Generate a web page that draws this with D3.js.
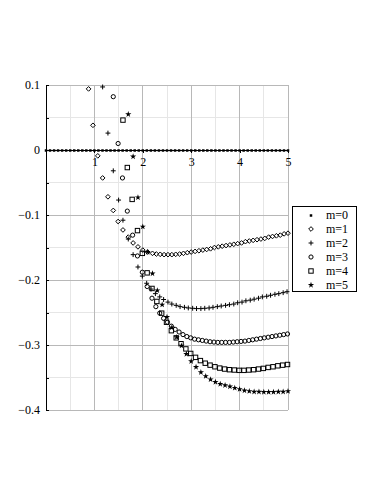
<!DOCTYPE html>
<html>
<head>
<meta charset="utf-8">
<script src="https://cdn.jsdelivr.net/npm/d3@7/dist/d3.min.js"></script>
<style>
  body { margin: 0; background: #fff; }
  svg text { font-family: 'Liberation Serif', 'Times New Roman', Times, serif; }
</style>
</head>
<body>
<div id="chart"></div>
<script>
// series data [x, y]
const m0 = [[0,0],[0.083,0],[0.167,0],[0.25,0],[0.333,0],[0.417,0],[0.5,0],[0.583,0],[0.667,0],[0.75,0],
  [0.833,0],[0.917,0],[1,0],[1.083,0],[1.167,0],[1.25,0],[1.333,0],[1.417,0],[1.5,0],[1.583,0],
  [1.667,0],[1.75,0],[1.833,0],[1.917,0],[2,0],[2.083,0],[2.167,0],[2.25,0],[2.333,0],[2.417,0],
  [2.5,0],[2.583,0],[2.667,0],[2.75,0],[2.833,0],[2.917,0],[3,0],[3.083,0],[3.167,0],[3.25,0],
  [3.333,0],[3.417,0],[3.5,0],[3.583,0],[3.667,0],[3.75,0],[3.833,0],[3.917,0],[4,0],[4.083,0],
  [4.167,0],[4.25,0],[4.333,0],[4.417,0],[4.5,0],[4.583,0],[4.667,0],[4.75,0],[4.833,0],[4.917,0],[5,0]];

const m1 = [[0.88,0.094],[0.97,0.038],[1.07,-0.009],[1.17,-0.043],[1.28,-0.072],[1.39,-0.093],[1.49,-0.110],
  [1.59,-0.123],[1.70,-0.134],[1.80,-0.143],[1.90,-0.149],[2.00,-0.154],[2.10,-0.157],[2.20,-0.159],
  [2.28,-0.160],[2.36,-0.1605],[2.44,-0.161],[2.52,-0.161],[2.60,-0.161],[2.68,-0.1605],[2.76,-0.160],
  [2.84,-0.159],[2.92,-0.158],[3.00,-0.157],[3.08,-0.156],[3.16,-0.155],[3.24,-0.154],[3.32,-0.153],
  [3.40,-0.152],[3.48,-0.150],[3.56,-0.149],[3.64,-0.148],[3.72,-0.147],[3.80,-0.146],[3.88,-0.145],
  [3.96,-0.144],[4.04,-0.143],[4.12,-0.141],[4.20,-0.140],[4.28,-0.139],[4.36,-0.138],[4.44,-0.137],
  [4.52,-0.136],[4.60,-0.134],[4.68,-0.133],[4.76,-0.132],[4.84,-0.131],[4.92,-0.129],[5.00,-0.128]];

const m2 = [[1.17,0.097],[1.28,0.026],[1.39,-0.032],[1.50,-0.077],[1.59,-0.108],[1.70,-0.137],[1.80,-0.161],
  [1.90,-0.180],[1.99,-0.194],[2.08,-0.205],[2.17,-0.214],[2.26,-0.221],[2.35,-0.226],[2.43,-0.230],
  [2.52,-0.234],[2.60,-0.237],[2.69,-0.239],[2.77,-0.241],[2.86,-0.242],[2.94,-0.243],[3.03,-0.2435],
  [3.11,-0.244],[3.20,-0.244],[3.28,-0.2435],[3.37,-0.243],[3.45,-0.242],[3.54,-0.241],[3.62,-0.240],
  [3.71,-0.239],[3.79,-0.238],[3.88,-0.237],[3.96,-0.235],[4.05,-0.234],[4.13,-0.232],[4.22,-0.231],
  [4.30,-0.2295],[4.39,-0.228],[4.47,-0.226],[4.56,-0.225],[4.64,-0.2235],[4.73,-0.222],[4.81,-0.221],
  [4.90,-0.2195],[4.98,-0.218]];

const m3 = [[1.39,0.082],[1.49,0.010],[1.58,-0.043],[1.68,-0.094],[1.79,-0.131],[1.89,-0.163],[1.99,-0.188],
  [2.09,-0.210],[2.19,-0.228],[2.27,-0.241],[2.35,-0.251],[2.43,-0.259],[2.51,-0.265],[2.59,-0.271],
  [2.67,-0.276],[2.75,-0.280],[2.83,-0.284],[2.91,-0.287],[2.99,-0.289],[3.07,-0.291],[3.15,-0.292],
  [3.23,-0.293],[3.31,-0.294],[3.39,-0.295],[3.47,-0.2955],[3.55,-0.296],[3.63,-0.296],[3.71,-0.296],
  [3.79,-0.296],[3.87,-0.2955],[3.95,-0.295],[4.03,-0.2945],[4.11,-0.294],[4.19,-0.293],[4.27,-0.292],
  [4.35,-0.291],[4.43,-0.290],[4.51,-0.289],[4.59,-0.288],[4.67,-0.287],[4.75,-0.286],[4.83,-0.285],
  [4.91,-0.284],[4.99,-0.283]];

const m4 = [[1.59,0.046],[1.68,-0.027],[1.78,-0.076],[1.89,-0.124],[1.99,-0.159],[2.09,-0.189],[2.19,-0.213],
  [2.29,-0.233],[2.39,-0.251],[2.49,-0.265],[2.59,-0.278],[2.69,-0.289],[2.79,-0.298],[2.89,-0.306],
  [2.99,-0.313],[3.09,-0.319],[3.19,-0.324],[3.29,-0.328],[3.39,-0.331],[3.49,-0.3335],[3.59,-0.3355],
  [3.69,-0.337],[3.79,-0.338],[3.89,-0.3385],[3.99,-0.339],[4.09,-0.339],[4.19,-0.3385],[4.29,-0.338],
  [4.39,-0.337],[4.49,-0.336],[4.59,-0.3345],[4.69,-0.3335],[4.79,-0.332],[4.89,-0.331],[4.99,-0.330]];

const m5 = [[1.70,0.055],[1.80,-0.010],[1.90,-0.073],[2.00,-0.118],[2.10,-0.157],[2.20,-0.190],[2.30,-0.216],
  [2.40,-0.238],[2.50,-0.257],[2.60,-0.273],[2.70,-0.288],[2.80,-0.301],[2.90,-0.314],[3.00,-0.325],
  [3.10,-0.334],[3.20,-0.342],[3.30,-0.348],[3.40,-0.353],[3.50,-0.357],[3.60,-0.360],[3.70,-0.362],
  [3.80,-0.364],[3.90,-0.366],[4.00,-0.368],[4.10,-0.370],[4.20,-0.371],[4.30,-0.372],[4.40,-0.372],
  [4.50,-0.3725],[4.60,-0.3725],[4.70,-0.3725],[4.80,-0.372],[4.90,-0.372],[5.00,-0.371]];

const seriesNames = ['m=0', 'm=1', 'm=2', 'm=3', 'm=4', 'm=5'];
const xTicks = [1, 2, 3, 4, 5];
const xTickLabels = ['1', '2', '3', '4', '5'];
const yTicks = [0.1, 0, -0.1, -0.2, -0.3, -0.4];
const yTickLabels = ['0.1', '0', '\u22120.1', '\u22120.2', '\u22120.3', '\u22120.4'];
const xMinorGrid = [0.5, 1.5, 2.5, 3.5, 4.5];
const yMinorGrid = [0.05, -0.05, -0.15, -0.25, -0.35];

const width = 382, height = 494;
const font = "'Liberation Serif', 'Times New Roman', Times, serif";
const x = d3.scaleLinear().domain([0, 5]).range([46, 288]);
const y = d3.scaleLinear().domain([-0.4, 0.1]).range([410, 85]);

const svg = d3.select('#chart').append('svg')
  .attr('width', width)
  .attr('height', height)
  .style('display', 'block');

svg.append('rect').attr('width', width).attr('height', height).attr('fill', '#fff');

// grid
const grid = svg.append('g').attr('shape-rendering', 'crispEdges');
grid.selectAll('.vmin').data(xMinorGrid).enter().append('line')
  .attr('x1', d => x(d)).attr('x2', d => x(d)).attr('y1', y(0.1)).attr('y2', y(-0.4))
  .attr('stroke', '#e6e6e6');
grid.selectAll('.hmin').data(yMinorGrid).enter().append('line')
  .attr('x1', x(0)).attr('x2', x(5)).attr('y1', d => y(d)).attr('y2', d => y(d))
  .attr('stroke', '#e6e6e6');
grid.selectAll('.vmaj').data(xTicks).enter().append('line')
  .attr('x1', d => x(d)).attr('x2', d => x(d)).attr('y1', y(0.1)).attr('y2', y(-0.4))
  .attr('stroke', '#b8b8b8');
grid.selectAll('.hmaj').data(yTicks).enter().append('line')
  .attr('x1', x(0)).attr('x2', x(5)).attr('y1', d => y(d)).attr('y2', d => y(d))
  .attr('stroke', '#b8b8b8');

// axes
const yAxis = d3.axisLeft(y)
  .tickValues(yTicks.concat(yMinorGrid))
  .tickSizeInner(-3)
  .tickSizeOuter(0)
  .tickPadding(6)
  .tickFormat(d => { const i = yTicks.indexOf(d); return i >= 0 ? yTickLabels[i] : ''; });
const gy = svg.append('g').attr('transform', `translate(${x(0)},0)`).call(yAxis);

const xAxis = d3.axisBottom(x)
  .tickValues(xTicks)
  .tickSizeInner(3)
  .tickSizeOuter(0)
  .tickPadding(4)
  .tickFormat((d, i) => xTickLabels[i]);
const gx = svg.append('g').attr('transform', `translate(0,${y(0)})`).call(xAxis);

[gx, gy].forEach(g => {
  g.attr('font-family', font).attr('font-size', 12);
  g.selectAll('path').attr('stroke', '#000').attr('shape-rendering', 'crispEdges');
  g.selectAll('line').attr('stroke', '#000').attr('shape-rendering', 'crispEdges');
  g.selectAll('text').style('font-family', font).attr('font-size', 12).attr('fill', '#000');
});
gx.select('.domain').attr('d', `M${x(0)},0H${x(5)}`);

// markers
const markers = [
  { data: m0, draw: g => g.append('rect').attr('x', -1.25).attr('y', -0.75).attr('width', 2.5).attr('height', 2.5).attr('fill', '#000') },
  { data: m1, draw: g => g.append('path').attr('d', d3.symbol(d3.symbolDiamond2, 14)()).attr('fill', 'none').attr('stroke', '#000').attr('stroke-width', 1) },
  { data: m2, draw: g => g.append('path').attr('d', d3.symbol(d3.symbolPlus, 9)()).attr('fill', 'none').attr('stroke', '#000').attr('stroke-width', 1) },
  { data: m3, draw: g => g.append('circle').attr('r', 2.1).attr('fill', 'none').attr('stroke', '#000').attr('stroke-width', 1) },
  { data: m4, draw: g => g.append('rect').attr('x', -2.2).attr('y', -2.2).attr('width', 4.4).attr('height', 4.4).attr('fill', 'none').attr('stroke', '#000').attr('stroke-width', 1) },
  { data: m5, draw: g => g.append('path').attr('d', d3.symbol(d3.symbolStar, 12)()).attr('fill', '#000') }
];

const plot = svg.append('g');
markers.forEach(s => {
  plot.append('g').selectAll('g').data(s.data).enter().append('g')
    .attr('transform', d => `translate(${x(d[0])},${y(d[1])})`)
    .each(function () { s.draw(d3.select(this)); });
});

// legend
const legend = svg.append('g');
legend.append('rect')
  .attr('x', 292.5).attr('y', 206.5).attr('width', 64).attr('height', 85)
  .attr('fill', '#fff').attr('stroke', '#000').attr('stroke-width', 1);
seriesNames.forEach((name, i) => {
  const cy = 215 + i * 14;
  const g = legend.append('g').attr('transform', `translate(311,${cy})`);
  markers[i].draw(g);
  legend.append('text').attr('x', 326).attr('y', cy).attr('dy', '0.33em')
    .style('font-family', font).attr('font-size', 12).text(name);
});
</script>
</body>
</html>
